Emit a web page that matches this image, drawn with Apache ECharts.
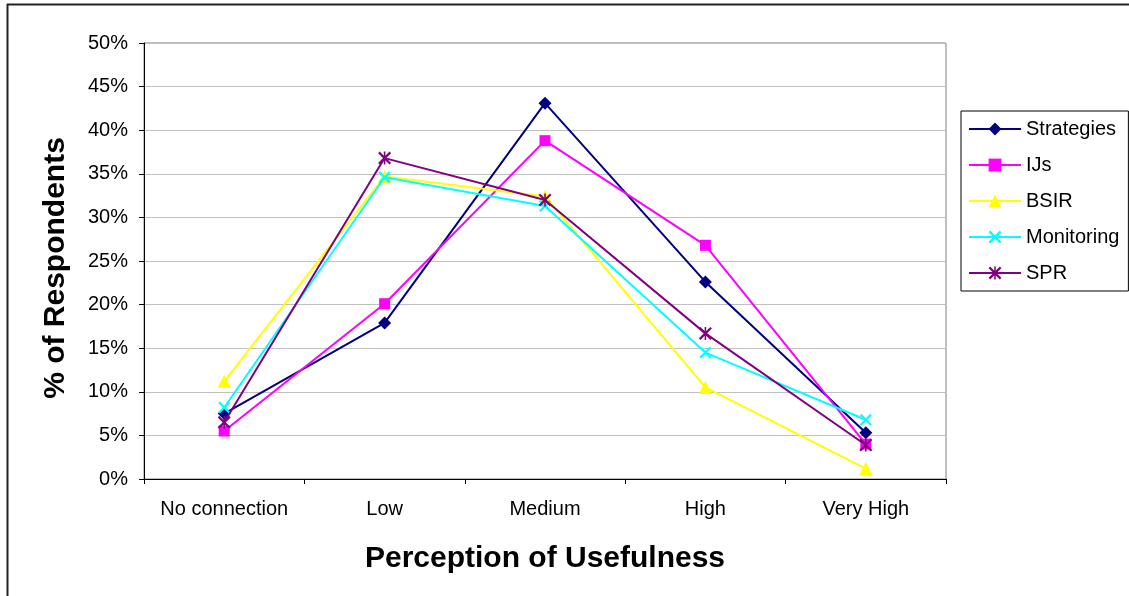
<!DOCTYPE html>
<html>
<head>
<meta charset="utf-8">
<script src="https://cdn.jsdelivr.net/npm/echarts@6/dist/echarts.min.js"></script>
<style>
html,body{margin:0;padding:0;background:#fff;}
#c{width:1129px;height:596px;}
</style>
</head>
<body>
<div id="c"></div>
<script>
const categories = ['No connection', 'Low', 'Medium', 'High', 'Very High'];
const strategies = [7.5, 17.9, 43.1, 22.6, 5.3];
const ijs = [5.5, 20.1, 38.8, 26.8, 4.0];
const bsir = [11.2, 34.7, 32.4, 10.5, 1.2];
const monitoring = [8.2, 34.6, 31.3, 14.5, 6.8];
const spr = [6.5, 36.8, 32.0, 16.7, 3.9];
const seriesNames = ['Strategies', 'IJs', 'BSIR', 'Monitoring', 'SPR'];
const yTicks = {min: 0, max: 50, interval: 5};

const FONT = '"Liberation Sans", Arial, sans-serif';
const xPath = 'path://M0,1.3L1.3,0L10,8.7L8.7,10Z M8.7,0L10,1.3L1.3,10L0,8.7Z';
const starPath = 'path://M0,1.2L1.2,0L10,8.8L8.8,10Z M8.8,0L10,1.2L1.2,10L0,8.8Z M4.4,0L5.6,0L5.6,10L4.4,10Z';

const styles = [
  {data: strategies, color: '#000080', symbol: 'diamond', size: 13},
  {data: ijs, color: '#ff00ff', symbol: 'rect', size: 11},
  {data: bsir, color: '#ffff00', symbol: 'triangle', size: 13},
  {data: monitoring, color: '#00ffff', symbol: xPath, size: 12},
  {data: spr, color: '#800080', symbol: starPath, size: 13}
];

const chart = echarts.init(document.getElementById('c'), null, {renderer: 'canvas'});
chart.setOption({
  animation: false,
  backgroundColor: '#ffffff',
  textStyle: {fontFamily: FONT},
  grid: {left: 144, right: 183, top: 43, bottom: 117, show: true, borderColor: '#808080', borderWidth: 1, backgroundColor: 'transparent'},
  xAxis: {
    type: 'category',
    data: categories,
    boundaryGap: true,
    axisLine: {lineStyle: {color: '#000', width: 1}},
    axisTick: {show: true, alignWithLabel: false, inside: false, length: 5, lineStyle: {color: '#000'}},
    axisLabel: {color: '#000', fontSize: 20, fontFamily: FONT, margin: 20, interval: 0},
    splitLine: {show: false}
  },
  yAxis: {
    type: 'value',
    min: yTicks.min, max: yTicks.max, interval: yTicks.interval,
    axisLine: {show: true, lineStyle: {color: '#000', width: 1}},
    axisTick: {show: true, length: 5, lineStyle: {color: '#000'}},
    axisLabel: {color: '#000', fontSize: 20, fontFamily: FONT, margin: 16, formatter: '{value}%'},
    splitLine: {show: true, lineStyle: {color: '#c0c0c0', width: 1}}
  },
  legend: {
    orient: 'vertical',
    left: 961, top: 111,
    padding: [8, 9, 8, 7],
    itemGap: 16,
    itemWidth: 52,
    itemHeight: 16,
    borderColor: '#000', borderWidth: 1,
    backgroundColor: '#fff',
    textStyle: {color: '#000', fontSize: 20, fontFamily: FONT},
    data: seriesNames
  },
  series: styles.map((s, i) => ({
    name: seriesNames[i],
    type: 'line',
    data: s.data,
    symbol: s.symbol,
    symbolSize: s.size,
    showAllSymbol: true,
    lineStyle: {color: s.color, width: 2},
    itemStyle: {color: s.color, borderWidth: 0},
    z: 2 + i
  })),
  graphic: [
    {type: 'line', shape: {x1: 7.5, y1: 4, x2: 7.5, y2: 600}, style: {stroke: '#222', lineWidth: 2}, silent: true},
    {type: 'line', shape: {x1: 7, y1: 4.5, x2: 1135, y2: 4.5}, style: {stroke: '#222', lineWidth: 2}, silent: true},
    {type: 'text', x: 545, y: 559, style: {text: 'Perception of Usefulness', font: 'bold 30px ' + FONT, fill: '#000', align: 'center', verticalAlign: 'middle'}, silent: true},
    {type: 'text', x: 56, y: 268, rotation: Math.PI / 2, style: {text: '% of Respondents', font: 'bold 30px ' + FONT, fill: '#000', align: 'center', verticalAlign: 'middle'}, silent: true}
  ]
});
</script>
</body>
</html>
